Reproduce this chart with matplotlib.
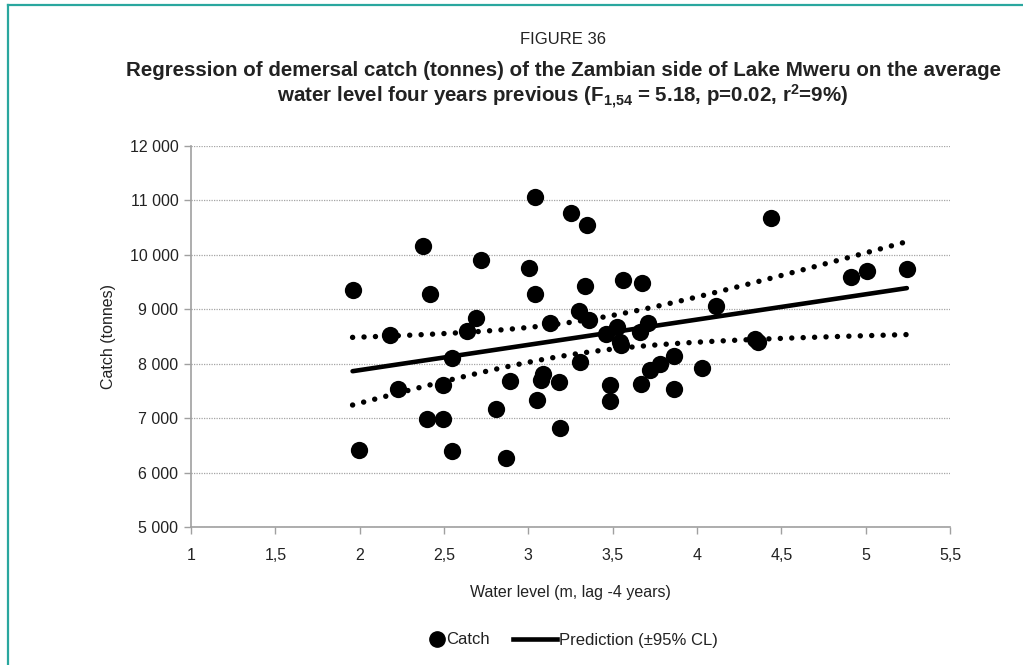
import numpy as np
import matplotlib
matplotlib.use("Agg")
import matplotlib.pyplot as plt
from matplotlib.lines import Line2D
from matplotlib.ticker import FuncFormatter

# Average water level four years earlier (m) and demersal catch (tonnes)
water_level = [1.958, 1.995, 2.177, 2.227, 2.377, 2.397, 2.415, 2.494, 2.494,
               2.547, 2.545, 2.638, 2.691, 2.721, 2.810, 2.869, 2.893, 3.006,
               3.041, 3.041, 3.051, 3.077, 3.087, 3.126, 3.180, 3.185, 3.255,
               3.300, 3.308, 3.350, 3.338, 3.359, 3.462, 3.486, 3.486, 3.528,
               3.541, 3.552, 3.561, 3.660, 3.668, 3.676, 3.709, 3.723, 3.783,
               3.862, 3.862, 4.028, 4.115, 4.346, 4.362, 4.441, 4.916, 5.008,
               5.244]
catch = [9346, 6423, 8524, 7531, 10165, 6978, 9272, 7618, 6993,
         8110, 6392, 8597, 8831, 9897, 7176, 6276, 7691, 9750,
         11055, 9272, 7342, 7697, 7820, 8757, 7666, 6827, 10761,
         8965, 8028, 10540, 9430, 8794, 8540, 7605, 7323, 8676,
         8400, 8340, 9535, 8585, 7623, 9480, 8739, 7893, 7991,
         8143, 7544, 7930, 9057, 8463, 8401, 10669, 9584, 9700,
         9732]

x_ticks = [1, 1.5, 2, 2.5, 3, 3.5, 4, 4.5, 5, 5.5]
y_ticks = [5000, 6000, 7000, 8000, 9000, 10000, 11000, 12000]

T_CRIT = 2.005  # two-sided 95 % Student t, 54 df

# Ordinary least squares fit with 95 % confidence limits of the mean
x = np.asarray(water_level, dtype=float)
y = np.asarray(catch, dtype=float)
n = len(x)
slope, intercept = np.polyfit(x, y, 1)
resid = y - (intercept + slope * x)
s = np.sqrt(np.sum(resid ** 2) / (n - 2))
sxx = np.sum((x - x.mean()) ** 2)
xs = np.linspace(x.min(), x.max(), 120)
pred = intercept + slope * xs
half = T_CRIT * s * np.sqrt(1.0 / n + (xs - x.mean()) ** 2 / sxx)

plt.rcParams["font.family"] = ["Liberation Sans", "DejaVu Sans"]
plt.rcParams["mathtext.default"] = "regular"

TEXT = "#222222"
W, H = 1023, 665

fig = plt.figure(figsize=(W / 100, H / 100), dpi=100)
ax = fig.add_axes([191 / W, 1 - 527 / H, (950 - 191) / W, (527 - 146) / H])

ax.set_xlim(1, 5.5)
ax.set_ylim(5000, 12000)
ax.set_xticks(x_ticks)
ax.set_yticks(y_ticks)
ax.xaxis.set_major_formatter(FuncFormatter(lambda v, p: f"{v:g}".replace(".", ",")))
ax.yaxis.set_major_formatter(FuncFormatter(lambda v, p: f"{int(v):,}".replace(",", " ")))

ax.grid(axis="y", color="#a5a5a5", linestyle=(0, (1, 1)), linewidth=0.9)
ax.set_axisbelow(True)
for side in ("top", "right"):
    ax.spines[side].set_visible(False)
for side in ("left", "bottom"):
    ax.spines[side].set_color("#a0a0a0")
    ax.spines[side].set_linewidth(1.2)
ax.tick_params(axis="both", colors="#a0a0a0", length=5, width=1, labelsize=11.5,
               labelcolor=TEXT)
ax.tick_params(axis="x", pad=10)
ax.tick_params(axis="y", pad=4)

ax.scatter(x, y, s=155, color="black", zorder=3, linewidths=0)
ax.plot(xs, pred, color="black", linewidth=3.3, solid_capstyle="round", zorder=4)
for band in (pred + half, pred - half):
    ax.plot(xs, band, color="black", linewidth=3.9, linestyle=(0, (0.01, 2.1)),
            dash_capstyle="round", zorder=4)

ax.set_xlabel("Water level (m, lag -4 years)", fontsize=11.5, color=TEXT, labelpad=16)
ax.set_ylabel("Catch (tonnes)", fontsize=11.5, color=TEXT, labelpad=10)

# Legend: two entries laid out side by side below the axis title
leg_y = 1 - 640 / H
fig.legend([Line2D([], [], marker="o", linestyle="none", color="black",
                   markersize=11)],
           ["Catch"], loc="center left", bbox_to_anchor=(429 / W, leg_y),
           frameon=False, fontsize=12, handlelength=1.0, handletextpad=0.05,
           borderpad=0, borderaxespad=0, labelcolor=TEXT)
fig.legend([Line2D([], [], color="black", linewidth=3.3)],
           ["Prediction (\u00b195% CL)"], loc="center left",
           bbox_to_anchor=(513 / W, leg_y), frameon=False, fontsize=12,
           handlelength=2.65, handletextpad=0.12, borderpad=0, borderaxespad=0,
           labelcolor=TEXT)

fig.text(563 / W, 1 - 40 / H, "FIGURE 36", ha="center", va="center",
         fontsize=12, color=TEXT)
fig.text(563 / W, 1 - 70 / H,
         "Regression of demersal catch (tonnes) of the Zambian side of Lake Mweru on the average",
         ha="center", va="center", fontsize=14.8, fontweight="bold", color=TEXT)
fig.text(563 / W, 1 - 97 / H,
         r"water level four years previous (F$_{1{,}54}$ = 5.18, p=0.02, r$^{2}$=9%)",
         ha="center", va="center", fontsize=14.8, fontweight="bold", color=TEXT)

# Teal frame along the top and left edges
frame_color = "#2aa79f"
fig.add_artist(Line2D([8 / W, 1], [1 - 5 / H, 1 - 5 / H], color=frame_color,
                      linewidth=1.6, transform=fig.transFigure))
fig.add_artist(Line2D([8 / W, 8 / W], [0, 1 - 5 / H], color=frame_color,
                      linewidth=1.6, transform=fig.transFigure))

fig.savefig("out.png", dpi=100)
